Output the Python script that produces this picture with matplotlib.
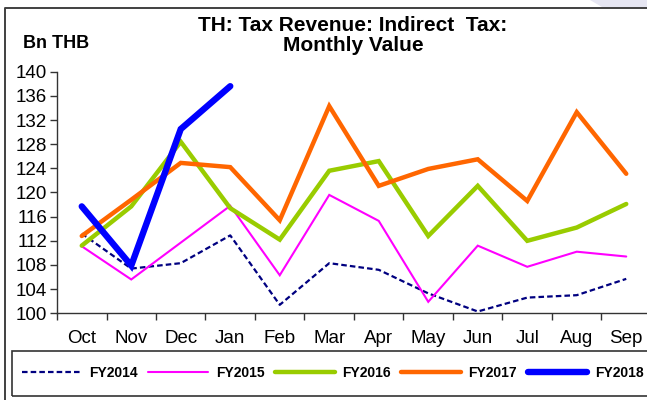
import numpy as np
import matplotlib
matplotlib.use('Agg')
import matplotlib.pyplot as plt
from matplotlib.patches import Rectangle, Polygon
from matplotlib.lines import Line2D

months = ['Oct', 'Nov', 'Dec', 'Jan', 'Feb', 'Mar', 'Apr', 'May', 'Jun', 'Jul', 'Aug', 'Sep']

fy2014 = [113.2, 107.4, 108.3, 112.9, 101.4, 108.3, 107.2, 103.3, 100.3, 102.6, 103.0, 105.7]
fy2015 = [111.1, 105.6, 111.7, 117.8, 106.3, 119.6, 115.3, 101.9, 111.2, 107.7, 110.2, 109.4]
fy2016 = [111.2, 117.7, 128.4, 117.4, 112.2, 123.6, 125.2, 112.8, 121.1, 112.0, 114.2, 118.1]
fy2017 = [112.8, 118.8, 124.9, 124.2, 115.4, 134.3, 121.1, 123.9, 125.5, 118.6, 133.3, 123.1]
fy2018 = [117.7, 107.9, 130.5, 137.6]

W, H = 647, 400
plt.rcParams['font.family'] = ['Liberation Sans', 'DejaVu Sans']

fig = plt.figure(figsize=(W / 100, H / 100), dpi=100)

def fx(px):
    return px / W

def fy(py):
    return 1 - py / H

# axes box: y-axis at x=57, 100 at y=313, 140 at y=72
ax = fig.add_axes([fx(57), fy(313.3), fx(651 - 57), (313.3 - 71.7) / H])

x = np.arange(len(months))
series = [
    ('FY2014', fy2014, '#000080', 1.6, (0, (2.5, 1.4))),
    ('FY2015', fy2015, '#ff00ff', 1.5, '-'),
    ('FY2016', fy2016, '#99cc00', 3.2, '-'),
    ('FY2017', fy2017, '#ff6600', 3.2, '-'),
    ('FY2018', fy2018, '#0000ff', 4.6, '-'),
]
handles = []
for name, vals, col, lw, ls in series:
    ln, = ax.plot(x[:len(vals)], vals, color=col, lw=lw, ls=ls,
                  solid_capstyle='round', solid_joinstyle='miter', label=name)
    handles.append(ln)

ax.set_xlim(-0.5, 11.5)
ax.set_ylim(100, 140)
ax.set_yticks(np.arange(100, 141, 4))
ax.set_xticks(np.arange(-0.5, 12, 1), minor=True)
ax.set_xticks(x)
ax.set_xticklabels(months)
ax.tick_params(axis='x', which='major', length=0, labelsize=13.5, pad=12)
ax.tick_params(axis='x', which='minor', length=5, width=1, direction='out', color='#333333')
ax.tick_params(axis='y', length=5, width=1, direction='out', labelsize=13.5, pad=2, color='#333333')
for s in ['top', 'right']:
    ax.spines[s].set_visible(False)
for s in ['left', 'bottom']:
    ax.spines[s].set_color('#333333')
    ax.spines[s].set_linewidth(1.0)
ax.patch.set_alpha(0)

fig.text(fx(353), fy(35.5), 'TH: Tax Revenue: Indirect  Tax:\nMonthly Value',
         ha='center', va='center', fontsize=15, fontweight='bold', linespacing=1.1)
fig.text(fx(23), fy(43), 'Bn THB', ha='left', va='center', fontsize=13, fontweight='bold')

# outer frame and legend box
fig.add_artist(Line2D([fx(5), fx(5), 1.0], [0.0, fy(8), fy(8)], color='#404040', lw=1.4))
fig.add_artist(Rectangle((fx(12), fy(396)), fx(700), (396 - 350.5) / H, fill=False,
                         edgecolor='#333333', lw=1.2, transform=fig.transFigure))
fig.add_artist(Polygon([(fx(590), 1.0), (1.0, 1.0), (1.0, fy(7)), (fx(602), fy(7))],
                       closed=True, facecolor='#e6e6f2', edgecolor='none', transform=fig.transFigure))

leg = fig.legend(handles=handles, loc='center left', bbox_to_anchor=(fx(22), fy(373)),
                 ncol=5, frameon=False, borderpad=0, borderaxespad=0,
                 handlelength=4.3, handletextpad=0.55, columnspacing=0.75,
                 prop={'weight': 'bold', 'size': 10})

fig.savefig('out.png', dpi=100)
